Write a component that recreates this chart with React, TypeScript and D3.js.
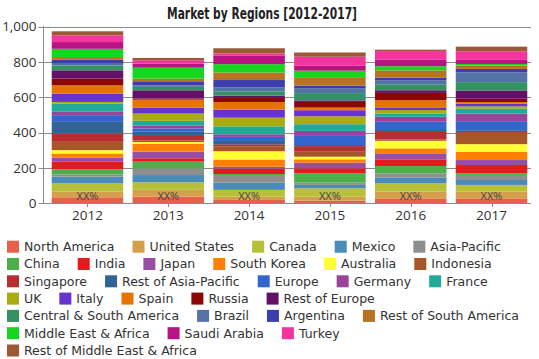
import React from "react";
import * as d3 from "d3";

const title = "Market by Regions [2012-2017]";
const years = ["2012", "2013", "2014", "2015", "2016", "2017"];
const regions = [
  "North America", "United States", "Canada", "Mexico", "Asia-Pacific",
  "China", "India", "Japan", "South Korea", "Australia", "Indonesia",
  "Singapore", "Rest of Asia-Pacific", "Europe", "Germany", "France",
  "UK", "Italy", "Spain", "Russia", "Rest of Europe",
  "Central & South America", "Brazil", "Argentina", "Rest of South America",
  "Middle East & Africa", "Saudi Arabia", "Turkey", "Rest of Middle East & Africa",
];
const colors = [
  "#e8604c", "#d4a04c", "#b8c03a", "#4a8bb8", "#8f8f8f",
  "#4daf4a", "#e41a1c", "#984ea3", "#ff7f00", "#ffff33", "#a65628",
  "#b82e2e", "#316395", "#3366cc", "#994499", "#22aa99",
  "#aaaa11", "#6633cc", "#e67300", "#8b0707", "#651067",
  "#329262", "#5574a6", "#3b3eac", "#b77322",
  "#16d620", "#b91383", "#f4359e", "#9c5935",
];
// values per year, in the order of `regions`
const v2012 = [34, 32, 47, 38, 13, 28, 43, 24, 23, 19, 47, 47, 66, 38, 19, 47, 9, 47, 47, 38, 47, 28, 9, 23, 15, 47, 38, 38, 23];
const v2013 = [38, 38, 43, 41, 38, 38, 19, 38, 43, 11, 8, 26, 24, 19, 17, 26, 41, 34, 45, 6, 47, 19, 9, 23, 15, 62, 23, 19, 13];
const v2014 = [19, 19, 38, 41, 38, 11, 30, 11, 41, 47, 28, 11, 19, 23, 15, 45, 49, 45, 43, 24, 13, 24, 23, 41, 43, 47, 47, 13, 30];
const v2015 = [15, 23, 47, 19, 13, 53, 28, 32, 19, 15, 28, 32, 6, 56, 24, 38, 45, 34, 15, 32, 9, 41, 28, 15, 43, 41, 28, 51, 24];
const v2016 = [28, 38, 47, 34, 23, 41, 38, 34, 28, 43, 8, 47, 6, 47, 28, 19, 19, 15, 41, 41, 15, 34, 23, 15, 41, 23, 39, 47, 8];
const v2017 = [28, 38, 38, 28, 23, 15, 47, 28, 47, 43, 60, 8, 11, 51, 43, 28, 13, 15, 9, 19, 47, 47, 56, 19, 19, 9, 23, 49, 26];
const barLabels = ["XX%", "XX%", "XX%", "XX%", "XX%", "XX%"];
const yTicks = [0, 200, 400, 600, 800, 1000];
// number of legend entries on each legend row
const legendRowSizes = [5, 6, 5, 5, 4, 3, 1];

const W = 539;
const H = 359;
const LEG_FONT = "12.5px 'DejaVu Sans'";

function measure(text: string, font: string): number {
  if (typeof document === "undefined") return text.length * 7;
  const c = document.createElement("canvas");
  const ctx = c.getContext("2d");
  if (!ctx) return text.length * 7;
  ctx.font = font;
  return ctx.measureText(text).width;
}

export default function App() {
  const x = d3.scaleBand<string>().domain(years).range([43, 536]).paddingInner(0.115).paddingOuter(0.108);
  const y = d3.scaleLinear().domain([0, 1000]).range([203.3, 26.7]);
  const yearValues = [v2012, v2013, v2014, v2015, v2016, v2017];
  const table = years.map((yr, i) => {
    const row: any = { year: yr };
    regions.forEach((r, j) => (row[r] = yearValues[i][j]));
    return row;
  });
  const series = d3.stack<any>().keys(regions)(table);
  const fmt = d3.format(",");

  // legend layout with fixed row breaks
  const items: { name: string; color: string; x: number; row: number }[] = [];
  let idx = 0;
  legendRowSizes.forEach((n, row) => {
    let cx = 7;
    for (let k = 0; k < n && idx < regions.length; k++, idx++) {
      const r = regions[idx];
      items.push({ name: r, color: colors[idx], x: cx, row });
      cx += 16 + measure(r, LEG_FONT) + 19;
    }
  });

  return (
    <svg width={W} height={H} style={{ position: "absolute", left: 0, top: 0, background: "#fff" }}>
      <text x={167} y={19} textLength={190} lengthAdjust="spacingAndGlyphs"
        style={{ font: "bold 16px 'DejaVu Sans', sans-serif", fill: "#222" }}>
        {title}
      </text>
      {/* gridlines */}
      {yTicks.map((t) => (
        <g key={t}>
          <line x1={43} x2={531} y1={Math.round(y(t)) + 0.5} y2={Math.round(y(t)) + 0.5} stroke="#8a8a8a" strokeWidth={1} />
          <line x1={38.5} x2={43} y1={Math.round(y(t)) + 0.5} y2={Math.round(y(t)) + 0.5} stroke="#8a8a8a" strokeWidth={1} />
          <text x={36.5} y={y(t)} dy="0.35em" textAnchor="end"
            style={{ font: "13.5px 'Open Sans', sans-serif", fill: "#333" }}>{fmt(t)}</text>
        </g>
      ))}
      {/* bars */}
      {series.map((s, i) => (
        <g key={s.key} fill={colors[i]}>
          {s.map((d, j) => (
            <rect key={j} x={x(years[j])} width={x.bandwidth()} y={y(d[1])} height={Math.max(0, y(d[0]) - y(d[1]))} />
          ))}
        </g>
      ))}
      {years.map((yr, j) => (
        <text key={"l" + yr} x={(x(yr) as number) + x.bandwidth() / 2} y={200} textAnchor="middle"
          style={{ font: "11px 'Open Sans', sans-serif", fill: "#444" }}>{barLabels[j]}</text>
      ))}
      {/* axes */}
      <line x1={43.5} x2={43.5} y1={26} y2={204} stroke="#8a8a8a" />
      <line x1={43} x2={531} y1={203.5} y2={203.5} stroke="#8a8a8a" />
      {years.map((yr) => {
        const c = (x(yr) as number) + x.bandwidth() / 2;
        return (
          <g key={"t" + yr}>
            <line x1={Math.round(c) + 0.5} x2={Math.round(c) + 0.5} y1={203} y2={207} stroke="#8a8a8a" />
            <text x={c} y={220} textAnchor="middle" style={{ font: "13.5px 'Open Sans', sans-serif", fill: "#333" }}>{yr}</text>
          </g>
        );
      })}
      {/* legend */}
      {items.map((it) => {
        const cy = 246.7 + it.row * 17.3;
        return (
          <g key={it.name}>
            <rect x={it.x} y={cy - 6} width={12} height={12} fill={it.color} />
            <text x={it.x + 17} y={cy} dy="0.35em" style={{ font: LEG_FONT, fill: "#333" }}>{it.name}</text>
          </g>
        );
      })}
    </svg>
  );
}
